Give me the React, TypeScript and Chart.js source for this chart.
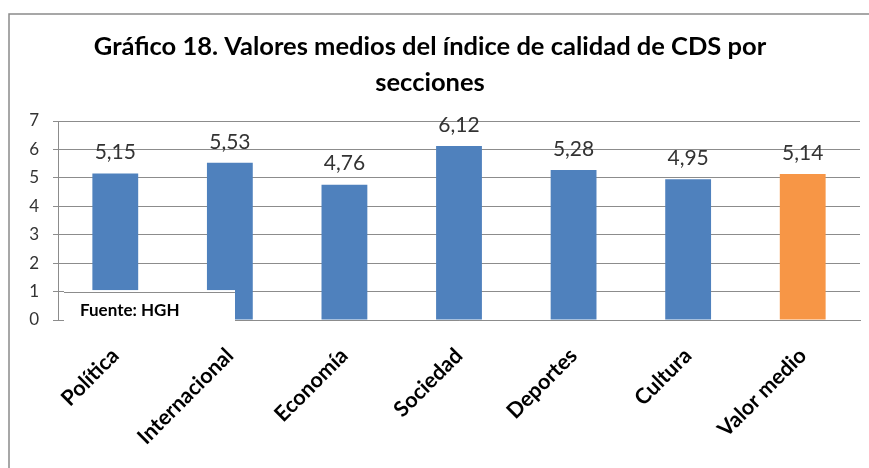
import React, { useEffect, useRef } from "react";
import { Chart, registerables } from "chart.js";

Chart.register(...registerables);

const categories = ["Política", "Internacional", "Economía", "Sociedad", "Deportes", "Cultura", "Valor medio"];
const values = [5.15, 5.53, 4.76, 6.12, 5.28, 4.95, 5.14];
const barColors = ["#4F81BD", "#4F81BD", "#4F81BD", "#4F81BD", "#4F81BD", "#4F81BD", "#F79646"];
const titleLines = ["Gráfico 18. Valores medios del índice de calidad de CDS por", "secciones"];
const sourceText = "Fuente: HGH";
const yMin = 0;
const yMax = 7;

const FONT = "Lato, 'Open Sans', sans-serif";

const framePlugin = {
  id: "frame",
  beforeDraw(chart: any) {
    const ctx = chart.ctx;
    ctx.save();
    ctx.fillStyle = "#ffffff";
    ctx.fillRect(0, 0, chart.width, chart.height);
    ctx.strokeStyle = "#8a8a8a";
    ctx.lineWidth = 1.5;
    ctx.strokeRect(9, 14, chart.width + 20, chart.height + 20);
    ctx.restore();
  },
};

const labelsPlugin = {
  id: "valueLabels",
  afterDatasetsDraw(chart: any) {
    const ctx = chart.ctx;
    const meta = chart.getDatasetMeta(0);
    ctx.save();
    ctx.font = "21px " + FONT;
    ctx.fillStyle = "#333333";
    ctx.textAlign = "center";
    ctx.textBaseline = "middle";
    meta.data.forEach((bar: any, i: number) => {
      const v = chart.data.datasets[0].data[i] as number;
      ctx.fillText(v.toFixed(2).replace(".", ","), bar.x, bar.y - 21);
    });

    // source note box
    const area = chart.chartArea;
    const ys = chart.scales.y;
    const y1 = ys.getPixelForValue(1);
    const bx = area.left + 6;
    const bw = 171;
    ctx.fillStyle = "#ffffff";
    ctx.fillRect(bx, y1 - 1.5, bw, area.bottom - y1 + 3);
    ctx.strokeStyle = "#8c8c8c";
    ctx.lineWidth = 1;
    ctx.beginPath();
    ctx.moveTo(bx, Math.round(y1) + 0.5);
    ctx.lineTo(bx + bw, Math.round(y1) + 0.5);
    ctx.stroke();
    ctx.font = "bold 17px " + FONT;
    ctx.fillStyle = "#000000";
    ctx.textAlign = "left";
    ctx.fillText(sourceText, area.left + 22, (y1 + area.bottom) / 2 + 5);
    ctx.restore();
  },
};

export default function App() {
  const ref = useRef<HTMLCanvasElement>(null);
  useEffect(() => {
    document.body.style.margin = "0";
    const chart = new Chart(ref.current as HTMLCanvasElement, {
      type: "bar",
      data: {
        labels: categories,
        datasets: [
          {
            data: values,
            backgroundColor: barColors,
            barPercentage: 0.8,
            categoryPercentage: 0.5,
          },
        ],
      },
      options: {
        responsive: false,
        animation: false,
        layout: { padding: { left: 0, right: 9, top: 0, bottom: 0 } },
        plugins: {
          legend: { display: false },
          tooltip: { enabled: false },
          title: {
            display: true,
            text: titleLines,
            color: "#000000",
            font: { family: FONT, size: 25.5, weight: "bold", lineHeight: 36 / 25.5 },
            padding: { top: 29, bottom: 20 },
          },
        },
        scales: {
          x: {
            grid: { display: false },
            border: { display: true, color: "#8c8c8c" },
            ticks: {
              autoSkip: false,
              maxRotation: 45,
              minRotation: 45,
              color: "#000000",
              font: { family: FONT, size: 21.5, weight: "bold" },
              padding: 15,
            },
            afterFit(scale: any) {
              scale.height = 148;
            },
          },
          y: {
            min: yMin,
            max: yMax,
            ticks: {
              stepSize: 1,
              color: "#333333",
              font: { family: FONT, size: 17 },
              padding: 14,
            },
            grid: { color: "#8c8c8c", tickLength: 5, drawTicks: true },
            border: { display: true, color: "#8c8c8c" },
            afterFit(scale: any) {
              scale.width = 58;
            },
          },
        },
      },
      plugins: [framePlugin, labelsPlugin],
    });
    return () => chart.destroy();
  }, []);
  return (
    <div style={{ position: "absolute", left: 0, top: 0, width: 869, height: 468 }}>
      <canvas ref={ref} width={869} height={468} />
    </div>
  );
}
